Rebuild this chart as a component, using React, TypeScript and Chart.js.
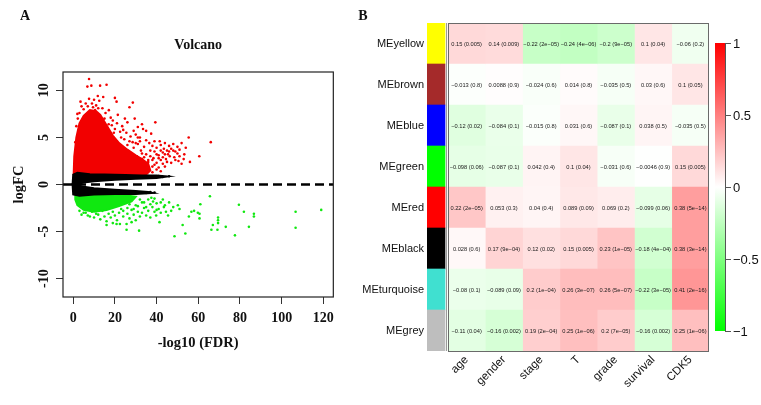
import React, { useEffect, useRef } from 'react';
import { Chart, registerables } from 'chart.js';
Chart.register(...registerables);

// ---------- Panel A: volcano ----------
const X_TICKS = [0, 20, 40, 60, 80, 100, 120];
const Y_TICKS = [-10, -5, 0, 5, 10];
const X_MIN = -4.9, X_MAX = 124.8, Y_MIN = -11.95, Y_MAX = 11.95;

// dense (saturated) clouds
const RED_CORE = [[0.2,1.0],[0.5,3.0],[1.5,5.0],[3,6.5],[5,7.3],[8,7.9],[11,7.8],[13,7.4],[16,6.3],[19,5.2],[22,4.4],[26,3.7],[30,3.1],[33,2.7],[36,2.2],[37,1.5],[35,1.05],[20,1.0],[10,1.0],[0.2,1.0]];
const GREEN_CORE = [[1,-1.0],[10,-1.0],[18,-1.05],[25,-1.15],[30,-1.3],[28,-1.8],[22,-2.3],[16,-2.7],[10,-2.9],[5,-2.7],[2,-2.2],[1,-1.6],[1,-1.0]];
const BLACK_UPPER = [[-0.3,0],[0,1.05],[2,1.25],[8,1.1],[15,1.05],[25,1.0],[33,0.95],[40,0.95],[45,0.85],[40,0.7],[30,0.6],[20,0.5],[10,0.35],[5,0.2],[2,0.05],[0,0],[-0.3,0]];
const BLACK_LOWER = [[0,0],[2,-0.05],[5,-0.25],[10,-0.4],[20,-0.55],[30,-0.7],[36,-0.8],[38,-0.9],[30,-1.0],[20,-1.0],[10,-1.05],[3,-1.2],[0,-1.05],[-0.3,0],[0,0]];

const RED_POINTS = [
  [7.6,11.2],[6.8,10.4],[8.7,10.5],[12.9,10.5],[16.0,10.6],[11.8,9.4],[14.4,9.3],[20.0,9.2],[20.8,8.8],[28.6,8.7],
  [7.6,9.1],[10,9.0],[17.1,7.9],[21.4,7.4],[24.8,7.0],[29.5,7.0],[27,8.2],[39.4,6.6],[33.5,5.9],[35,5.7],
  [31,6.1],[55.4,5.0],[66,4.5],[60.5,3.0],[53.3,3.2],[50.5,2.5],[52,2.2],[46.3,3.0],[35,4.7],[37.4,5.4],
  [42,4.2],[43.5,3.8],[44,4.4],[45,3.6],[46,4.1],[47,3.8],[48,4.3],[49,3.5],[50,4.0],[51,3.7],
  [52,4.4],[45.5,3.2],[48.5,2.9],[43,3.4],[41,3.1],[44.5,2.7],[40,3.9],[39,3.5],[38,4.1],[41.5,4.6],
  [15,5.2],[16,4.4],[17,3.6],[18,5.0],[19,4.0],[20,3.0],[21,4.6],[22,2.6],[23,3.7],[24,2.2],
  [24.5,4.8],[25,3.1],[26,4.2],[26.5,1.9],[27,3.4],[28,2.5],[28.5,4.5],[29,3.9],[30,1.6],[30.5,3.0],
  [31,4.3],[32,2.1],[32.5,3.6],[33,2.7],[34,4.0],[34.5,1.7],[35,3.2],[36,2.4],[36.5,4.4],[37,3.0],
  [38,1.9],[38.5,2.8],[39,4.6],[40,2.3],[41,1.8],[42,2.6],[43,2.2],[16.5,6.0],[18.5,6.3],[19.5,5.5],
  [22.5,5.6],[23.5,6.2],[25.5,5.5],[27.5,5.1],[30,5.3],[32,5.0],[33,6.4],[13,7.0],[14,8.1],[11,8.4],
  [9,8.6],[12.5,8.9],[15.5,7.6],[18,7.1],[1.5,6.2],[2.2,7.0],[3,7.6],[4,8.3],[5,8.0],[1,4.5],
  [2,7.5],[3.5,8.8],[6,8.6],[7,8.3],[9.5,8.2],[12,8.1],[10.5,7.9],
  [31,2.6],[33,3.3],[34,2.9],[35,2.0],[36,2.6],[37,3.6],[38,2.6],[39,2.1],[40,3.2],[41,2.8],
  [42,3.6],[43,2.9],[44,3.2],[45,2.4],[46,3.5],[47,2.3],[48,3.6],[49,2.6],[50,3.3],[51,3.0],
  [53,2.7],[54,3.9],[56,2.4],[34,1.3],[36,1.5],[38,1.3],[40,1.6],[42,1.4],[44,1.9],
  [14,6.6],[15,7.0],[17,6.4],[19,6.8],[20,5.9],[21,6.5],[23,5.0],[24,5.8],[26,6.6],[27,4.6],
  [29,5.7],[30,4.4],[31,5.0],[32,4.6]
];
const GREEN_POINTS = [
  [65.6,-1.25],[79.5,-2.15],[81.9,-2.9],[86.7,-3.1],[86.7,-3.4],[69.5,-3.5],[69.5,-3.8],[69.5,-4.1],[67,-4.3],[66.3,-4.8],
  [69.2,-4.8],[73.2,-4.5],[77.6,-5.4],[84.3,-4.5],[61,-2.1],[60.6,-3.1],[60.6,-3.6],[56.7,-2.9],[58,-2.8],[59.8,-3.0],
  [55.5,-3.4],[52.5,-4.3],[53.8,-5.2],[48.6,-5.5],[51,-2.6],[50.2,-2.2],[47,-2.8],[45.5,-3.3],[42,-1.9],[43.5,-2.4],
  [44.5,-2.9],[39.8,-3.3],[41.4,-4.0],[37.5,-1.4],[38.3,-1.8],[25.6,-4.2],[22.4,-4.2],[20.8,-4.2],[31.6,-4.9],[25.6,-4.8],
  [106.7,-2.9],[106.7,-4.6],[119,-2.7],
  [5,-3.0],[7,-3.3],[9,-2.9],[10,-3.5],[12,-3.2],[13,-3.7],[14,-2.8],[15,-3.4],[16,-3.9],[17,-3.1],
  [18,-3.5],[19,-2.9],[20,-3.3],[21,-3.8],[22,-3.0],[23,-2.6],[24,-3.4],[26,-3.1],[27,-3.6],[28,-2.7],
  [29,-3.2],[30,-3.8],[31,-2.9],[32,-3.4],[33,-3.0],[34,-2.5],[35,-3.3],[36,-2.8],[37,-3.5],[38,-2.4],
  [39,-2.9],[40,-2.0],[41,-2.6],[36,-1.6],[33,-1.9],[30,-2.2],[27,-2.1],[16,-4.3],[19,-4.1],[28,-4.0],
  [3,-2.8],[4,-3.2],[6,-3.0],[8,-3.4],[11,-3.1],[24,-2.8],[26,-2.5],[29,-2.6],[31,-2.3],[32,-1.6],
  [34,-1.9],[35,-2.4],[37,-2.1],[39,-1.5],[40,-2.7],[42,-3.0],[43,-1.6],[44,-2.2],[46,-1.9],[48,-2.4]
];
const BLACK_POINTS = [
  [36,0.9],[38,0.85],[41,0.9],[43,0.8],[46,0.88],[29,-0.85],[31,-0.9],[33,-0.85],[35,-0.9],[37,-0.8],[39,-0.85]
];

// ---------- Panel B: module-trait heatmap ----------
const ROWS = ['MEyellow', 'MEbrown', 'MEblue', 'MEgreen', 'MEred', 'MEblack', 'MEturquoise', 'MEgrey'];
const ROW_COLORS = ['#FFFF00', '#A52A2A', '#0000FF', '#00FF00', '#FF0000', '#000000', '#40E0D0', '#BEBEBE'];
const COLS = ['age', 'gender', 'stage', 'T', 'grade', 'survival', 'CDK5'];
const CORR = [
  [0.15, 0.14, -0.22, -0.24, -0.2, 0.1, -0.06],
  [-0.013, 0.0088, -0.024, 0.014, -0.035, 0.03, 0.1],
  [-0.12, -0.084, -0.015, 0.031, -0.087, 0.038, -0.035],
  [-0.098, -0.087, 0.042, 0.1, -0.031, -0.0046, 0.15],
  [0.22, 0.053, 0.04, 0.089, 0.069, -0.099, 0.38],
  [0.028, 0.17, 0.12, 0.15, 0.23, -0.18, 0.38],
  [-0.08, -0.089, 0.2, 0.26, 0.26, -0.22, 0.41],
  [-0.11, -0.16, 0.19, 0.25, 0.2, -0.16, 0.25],
];
const PVAL = [
  ['0.005', '0.009', '2e-05', '4e-06', '9e-05', '0.04', '0.2'],
  ['0.8', '0.9', '0.6', '0.8', '0.5', '0.6', '0.05'],
  ['0.02', '0.1', '0.8', '0.6', '0.1', '0.5', '0.5'],
  ['0.06', '0.1', '0.4', '0.04', '0.6', '0.9', '0.005'],
  ['2e-05', '0.3', '0.4', '0.09', '0.2', '0.06', '5e-14'],
  ['0.6', '9e-04', '0.02', '0.005', '1e-05', '4e-04', '3e-14'],
  ['0.1', '0.09', '1e-04', '3e-07', '5e-07', '3e-05', '2e-16'],
  ['0.04', '0.002', '2e-04', '1e-06', '7e-05', '0.002', '1e-06'],
];
const LEGEND_TICKS = [1, 0.5, 0, -0.5, -1];

const STRIP_START = -0.563;
const STRIP_END = -0.08;

const SERIF = '"Liberation Serif", "Times New Roman", serif';
const SANS = '"Liberation Sans", Arial, Helvetica, sans-serif';
const RED = '#F20000';
const GREEN = '#10E810';

const minus = (s: string) => s.replace(/-/g, '\u2212');
const corrColor = (v: number) => {
  const t = Math.min(1, Math.abs(v));
  const c = Math.round(255 * (1 - t));
  return v >= 0 ? `rgb(255,${c},${c})` : `rgb(${c},255,${c})`;
};
const toXY = (arr: number[][]) => arr.map(([x, y]) => ({ x, y }));

const volcanoPlugin = {
  id: 'volcanoDecor',
  afterDraw(chart: any) {
    const { ctx, chartArea: a, scales } = chart;
    ctx.save();
    ctx.strokeStyle = '#222';
    ctx.lineWidth = 1.2;
    ctx.strokeRect(a.left, a.top, a.right - a.left, a.bottom - a.top);
    ctx.fillStyle = '#111';
    ctx.textAlign = 'center';
    ctx.textBaseline = 'middle';
    ctx.font = `bold 14px ${SERIF}`;
    ctx.fillText('A', 25, 16);
    ctx.fillText('Volcano', (a.left + a.right) / 2, 45);
    ctx.font = `bold 14.5px ${SERIF}`;
    ctx.fillText('-log10 (FDR)', (a.left + a.right) / 2, 343);
    ctx.save();
    ctx.translate(19, (a.top + a.bottom) / 2);
    ctx.rotate(-Math.PI / 2);
    ctx.fillText('logFC', 0, 0);
    ctx.restore();
    ctx.font = `bold 14px ${SERIF}`;
    for (const v of Y_TICKS) {
      const y = scales.y.getPixelForValue(v);
      ctx.save();
      ctx.translate(44, y);
      ctx.rotate(-Math.PI / 2);
      ctx.fillText(String(v), 0, 0);
      ctx.restore();
    }
    ctx.restore();
  },
};

const heatPlugin = {
  id: 'heatDecor',
  afterDraw(chart: any) {
    const { ctx, chartArea: a, scales } = chart;
    ctx.save();
    // cell texts
    ctx.fillStyle = '#1a1a1a';
    ctx.font = `5.7px ${SANS}`;
    ctx.textAlign = 'center';
    ctx.textBaseline = 'middle';
    COLS.forEach((_, ci) => {
      const meta = chart.getDatasetMeta(ci + 1);
      meta.data.forEach((el: any, ri: number) => {
        const cx = (el.x + el.base) / 2;
        ctx.fillText(`${minus(String(CORR[ri][ci]))} (${minus(PVAL[ri][ci])})`, cx, el.y + 0.5);
      });
    });
    // heatmap frame
    const x0 = scales.x.getPixelForValue(0);
    const x1 = scales.x.getPixelForValue(COLS.length);
    ctx.strokeStyle = '#6a6a6a';
    ctx.lineWidth = 1;
    ctx.strokeRect(Math.round(x0) + 0.5, Math.round(a.top) + 0.5, Math.round(x1 - x0) - 1, Math.round(a.bottom - a.top));
    ctx.strokeStyle = '#9a9a9a';
    ctx.beginPath();
    ctx.moveTo(Math.round(x0) - 1.5, a.top);
    ctx.lineTo(Math.round(x0) - 1.5, a.bottom);
    ctx.stroke();
    // colour legend
    const cbX = 375, cbW = 10, cbTop = 43, cbBottom = 331;
    const g = ctx.createLinearGradient(0, cbTop, 0, cbBottom);
    g.addColorStop(0, corrColor(1));
    g.addColorStop(0.5, corrColor(0));
    g.addColorStop(1, corrColor(-1));
    ctx.fillStyle = g;
    ctx.fillRect(cbX, cbTop, cbW, cbBottom - cbTop);
    ctx.strokeStyle = '#555';
    ctx.beginPath();
    ctx.moveTo(cbX + cbW + 0.5, cbTop);
    ctx.lineTo(cbX + cbW + 0.5, cbBottom);
    ctx.stroke();
    ctx.fillStyle = '#111';
    ctx.font = `13px ${SANS}`;
    ctx.textAlign = 'left';
    for (const v of LEGEND_TICKS) {
      const y = cbTop + ((1 - v) / 2) * (cbBottom - cbTop);
      ctx.beginPath();
      ctx.moveTo(cbX + cbW, Math.round(y) + 0.5);
      ctx.lineTo(cbX + cbW + 6, Math.round(y) + 0.5);
      ctx.stroke();
      ctx.fillText(minus(String(v)), cbX + cbW + 8, y + 1);
    }
    ctx.font = `bold 14px ${SERIF}`;
    ctx.textAlign = 'center';
    ctx.fillText('B', 23, 16);
    ctx.restore();
  },
};

export default function App() {
  const volRef = useRef<HTMLCanvasElement>(null);
  const heatRef = useRef<HTMLCanvasElement>(null);

  useEffect(() => {
    const poly = (pts: number[][], color: string) => ({
      type: 'line' as const,
      data: toXY(pts),
      borderColor: color,
      backgroundColor: color,
      borderWidth: 2,
      pointRadius: 0,
      tension: 0,
      fill: 'shape',
    });
    const dots = (pts: number[][], color: string) => ({
      type: 'scatter' as const,
      data: toXY(pts),
      backgroundColor: color,
      borderWidth: 0,
      pointRadius: 1.3,
    });
    const vol = new Chart(volRef.current!, {
      type: 'scatter',
      data: {
        datasets: [
          {
            type: 'line',
            data: [{ x: X_MIN, y: 0 }, { x: X_MAX, y: 0 }],
            borderColor: '#000',
            borderWidth: 2.6,
            borderDash: [9, 5],
            pointRadius: 0,
            fill: false,
          } as any,
          dots(BLACK_POINTS, '#000'),
          poly(BLACK_UPPER, '#000'),
          poly(BLACK_LOWER, '#000'),
          dots(RED_POINTS, RED),
          dots(GREEN_POINTS, GREEN),
          poly(RED_CORE, RED),
          poly(GREEN_CORE, GREEN),
        ] as any,
      },
      options: {
        responsive: false,
        animation: false,
        devicePixelRatio: 1,
        layout: { padding: { top: 72, right: 5, left: 0, bottom: 0 } },
        plugins: { legend: { display: false }, tooltip: { enabled: false }, title: { display: false } },
        scales: {
          x: {
            type: 'linear',
            min: X_MIN,
            max: X_MAX,
            afterBuildTicks: (s: any) => { s.ticks = X_TICKS.map((v) => ({ value: v })); },
            grid: { drawOnChartArea: false, drawTicks: true, tickLength: 7, color: '#333', lineWidth: 1 },
            border: { display: false },
            ticks: { color: '#111', padding: 6, maxRotation: 0, font: { family: SERIF, size: 14, weight: 'bold' } },
            afterFit: (s: any) => { s.height = 108; },
          },
          y: {
            type: 'linear',
            min: Y_MIN,
            max: Y_MAX,
            afterBuildTicks: (s: any) => { s.ticks = Y_TICKS.map((v) => ({ value: v })); },
            grid: { drawOnChartArea: false, drawTicks: true, tickLength: 7, color: '#333', lineWidth: 1 },
            border: { display: false },
            ticks: { display: false },
            afterFit: (s: any) => { s.width = 63; },
          },
        },
      } as any,
      plugins: [volcanoPlugin],
    });

    const heat = new Chart(heatRef.current!, {
      type: 'bar',
      data: {
        labels: ROWS,
        datasets: [
          { data: ROWS.map(() => [STRIP_START, STRIP_END]), backgroundColor: ROW_COLORS },
          ...COLS.map((_, ci) => ({
            data: ROWS.map(() => [ci, ci + 1]),
            backgroundColor: ROWS.map((__, ri) => corrColor(CORR[ri][ci])),
          })),
        ] as any,
      },
      options: {
        indexAxis: 'y',
        responsive: false,
        animation: false,
        devicePixelRatio: 1,
        layout: { padding: { top: 23, right: 52, left: 0, bottom: 0 } },
        plugins: { legend: { display: false }, tooltip: { enabled: false }, title: { display: false } },
        datasets: { bar: { grouped: false, barPercentage: 1, categoryPercentage: 1, borderWidth: 0 } },
        scales: {
          x: {
            type: 'linear',
            min: STRIP_START,
            max: COLS.length,
            afterBuildTicks: (s: any) => { s.ticks = COLS.map((_, i) => ({ value: i + 0.5 })); },
            grid: { display: false, drawTicks: false },
            border: { display: false },
            ticks: {
              autoSkip: false,
              minRotation: 45,
              maxRotation: 45,
              padding: 2,
              color: '#111',
              font: { family: SANS, size: 11.5 },
              callback: (v: any) => COLS[Math.round(Number(v) - 0.5)],
            },
            afterFit: (s: any) => { s.height = 54; },
          },
          y: {
            type: 'category',
            grid: { display: false, drawTicks: false },
            border: { display: false },
            ticks: { padding: 3, color: '#111', font: { family: SANS, size: 11 } },
            afterFit: (s: any) => { s.width = 87; },
          },
        },
      } as any,
      plugins: [heatPlugin],
    });

    return () => {
      vol.destroy();
      heat.destroy();
    };
  }, []);

  return (
    <div style={{ position: 'fixed', left: 0, top: 0, width: 761, height: 405, background: '#fff' }}>
      <canvas ref={volRef} width={340} height={405} style={{ position: 'absolute', left: 0, top: 0 }} />
      <canvas ref={heatRef} width={421} height={405} style={{ position: 'absolute', left: 340, top: 0 }} />
    </div>
  );
}
